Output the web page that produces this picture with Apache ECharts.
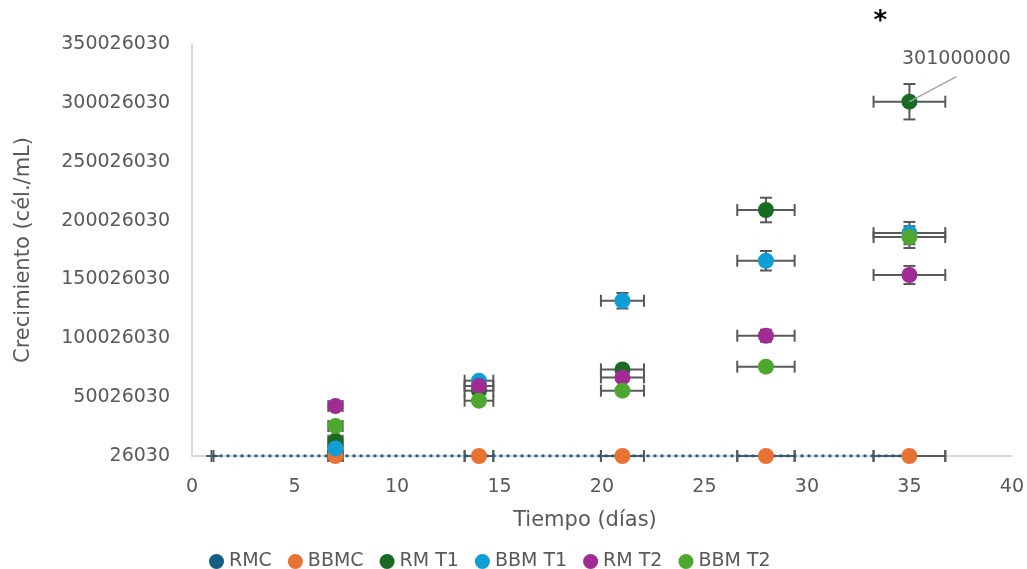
<!DOCTYPE html>
<html>
<head>
<meta charset="utf-8">
<script src="https://cdn.jsdelivr.net/npm/echarts@6/dist/echarts.min.js"></script>
<style>
  html, body { margin: 0; padding: 0; background: #fff; }
  #chart { width: 1027px; height: 569px; }
</style>
</head>
<body>
<div id="chart"></div>
<script>
const yTicks = [26030, 50026030, 100026030, 150026030, 200026030, 250026030, 300026030, 350026030];
const xTicks = [0, 5, 10, 15, 20, 25, 30, 35, 40];
const seriesNames = ["RMC", "BBMC", "RM T1", "BBM T1", "RM T2", "BBM T2"];
const colors = ["#156082", "#E97132", "#196B24", "#0F9ED5", "#A02B93", "#4EA72E"];

const rmcDays = [1, 7, 14, 21, 28, 35];
const rmcValues = [26030, 26030, 26030, 26030, 26030, 26030];
const days = [7, 14, 21, 28, 35];
const bbmcValues = [26030, 26030, 26030, 26030, 26030];
const rmT1Values = [13000000, 55500000, 73600000, 209000000, 301000000];
const bbmT1Values = [6500000, 64000000, 131900000, 165900000, 189400000];
const rmT2Values = [42500000, 59500000, 66800000, 102200000, 153800000];
const bbmT2Values = [25500000, 47000000, 55500000, 75900000, 186000000];
const errorPct = 0.05;

const pairs = (xs, ys) => xs.map((x, i) => [x, ys[i]]);
const allData = [
  pairs(rmcDays, rmcValues),
  pairs(days, bbmcValues),
  pairs(days, rmT1Values),
  pairs(days, bbmT1Values),
  pairs(days, rmT2Values),
  pairs(days, bbmT2Values),
];

const textColor = "#595959";
const font = "'DejaVu Sans', sans-serif";
const fontSize = 19;
const nameSize = 21;

// x and y error bars (percentage), drawn with caps
const errorBars = (data) => ({
  type: "custom",
  data: data,
  z: 2,
  silent: true,
  renderItem: (params, api) => {
    const x = api.value(0);
    const y = api.value(1);
    const c = api.coord([x, y]);
    const l = api.coord([x - x * errorPct, y]);
    const r = api.coord([x + x * errorPct, y]);
    const t = api.coord([x, y + y * errorPct]);
    const b = api.coord([x, y - y * errorPct]);
    const cap = 6;
    const style = { stroke: textColor, lineWidth: 2 };
    return {
      type: "group",
      children: [
        { type: "line", shape: { x1: l[0], y1: c[1], x2: r[0], y2: c[1] }, style },
        { type: "line", shape: { x1: l[0], y1: c[1] - cap, x2: l[0], y2: c[1] + cap }, style },
        { type: "line", shape: { x1: r[0], y1: c[1] - cap, x2: r[0], y2: c[1] + cap }, style },
        { type: "line", shape: { x1: c[0], y1: t[1], x2: c[0], y2: b[1] }, style },
        { type: "line", shape: { x1: c[0] - cap, y1: t[1], x2: c[0] + cap, y2: t[1] }, style },
        { type: "line", shape: { x1: c[0] - cap, y1: b[1], x2: c[0] + cap, y2: b[1] }, style },
      ],
    };
  },
});

const chart = echarts.init(document.getElementById("chart"));

const series = [];
allData.forEach((d) => series.push(errorBars(d)));

// RMC: dotted line, its markers sit under BBMC
series.push({
  name: seriesNames[0],
  type: "line",
  data: allData[0],
  symbol: "none",
  z: 3,
  itemStyle: { color: colors[0] },
  lineStyle: { color: colors[0], width: 3, type: [3, 4] },
});

for (let i = 1; i < 6; i++) {
  series.push({
    name: seriesNames[i],
    type: "scatter",
    data: allData[i],
    symbol: "circle",
    symbolSize: 16,
    z: 4,
    itemStyle: { color: colors[i], opacity: 1 },
  });
}

// data label with leader line and the asterisk over the last RM T1 point
const rmT1 = allData[2];
series.push({
  type: "custom",
  data: [rmT1[rmT1.length - 1]],
  z: 5,
  silent: true,
  renderItem: (params, api) => {
    const c = api.coord([api.value(0), api.value(1)]);
    return {
      type: "group",
      children: [
        {
          type: "line",
          shape: { x1: c[0], y1: c[1], x2: c[0] + 47, y2: c[1] - 25 },
          style: { stroke: "#A6A6A6", lineWidth: 1.5 },
        },
        {
          type: "text",
          x: c[0] + 47,
          y: c[1] - 43,
          style: {
            text: String(api.value(1)),
            fill: textColor,
            font: fontSize + "px " + font,
            align: "center",
            verticalAlign: "middle",
          },
        },
        {
          type: "text",
          x: c[0] - 29,
          y: c[1] - 79,
          style: {
            text: "*",
            fill: "#000",
            font: "bold 26px " + font,
            align: "center",
            verticalAlign: "middle",
          },
        },
      ],
    };
  },
});

chart.setOption({
  animation: false,
  backgroundColor: "#fff",
  textStyle: { fontFamily: font },
  grid: { left: 192, right: 15, top: 44, bottom: 113 },
  legend: {
    data: seriesNames.map((n) => ({ name: n, icon: "circle" })),
    left: 204,
    top: 547,
    itemWidth: 15,
    itemHeight: 15,
    itemGap: 16,
    textStyle: { color: textColor, fontSize: fontSize, fontFamily: font },
  },
  xAxis: {
    type: "value",
    min: xTicks[0],
    max: xTicks[xTicks.length - 1],
    interval: xTicks[1] - xTicks[0],
    name: "Tiempo (días)",
    nameLocation: "middle",
    nameGap: 54,
    nameTextStyle: { color: textColor, fontSize: nameSize, fontFamily: font, padding: [0, 34, 0, 0] },
    axisLine: { show: true, lineStyle: { color: "#D9D9D9", width: 2 } },
    axisTick: { show: false },
    splitLine: { show: false },
    axisLabel: { color: textColor, fontSize: fontSize, fontFamily: font, margin: 22 },
  },
  yAxis: {
    type: "value",
    min: yTicks[0],
    max: yTicks[yTicks.length - 1],
    interval: yTicks[1] - yTicks[0],
    name: "Crecimiento (cél./mL)",
    nameLocation: "middle",
    nameRotate: 90,
    nameGap: 158,
    nameTextStyle: { color: textColor, fontSize: nameSize, fontFamily: font },
    axisLine: { show: true, lineStyle: { color: "#D9D9D9", width: 2 } },
    axisTick: { show: false },
    splitLine: { show: false },
    axisLabel: {
      color: textColor,
      fontSize: fontSize,
      fontFamily: font,
      margin: 22,
      formatter: (v) => String(Math.round(v)),
    },
  },
  series: series,
});
</script>
</body>
</html>
